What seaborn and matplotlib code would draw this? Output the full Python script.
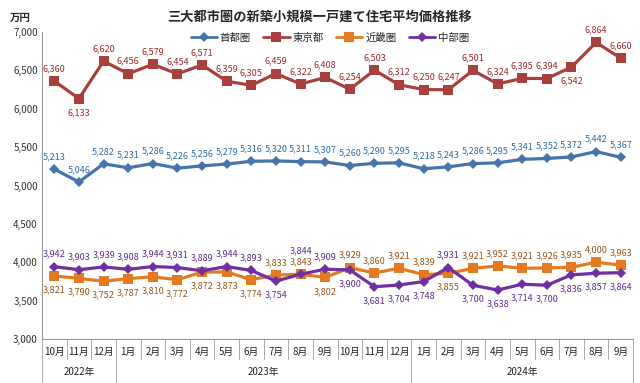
import matplotlib
matplotlib.use("Agg")
import matplotlib.pyplot as plt
import matplotlib.transforms as mtransforms
import pandas as pd
import seaborn as sns

months = ['10月', '11月', '12月', '1月', '2月', '3月', '4月', '5月', '6月', '7月', '8月', '9月',
          '10月', '11月', '12月', '1月', '2月', '3月', '4月', '5月', '6月', '7月', '8月', '9月']
years = ['2022年', '2023年', '2024年']
year_spans = [(0, 2), (3, 14), (15, 23)]

shuto = [5213, 5046, 5282, 5231, 5286, 5226, 5256, 5279, 5316, 5320, 5311, 5307,
         5260, 5290, 5295, 5218, 5243, 5286, 5295, 5341, 5352, 5372, 5442, 5367]
tokyo = [6360, 6133, 6620, 6456, 6579, 6454, 6571, 6359, 6305, 6459, 6322, 6408,
         6254, 6503, 6312, 6250, 6247, 6501, 6324, 6395, 6394, 6542, 6864, 6660]
kinki = [3821, 3790, 3752, 3787, 3810, 3772, 3872, 3873, 3774, 3833, 3843, 3802,
         3929, 3860, 3921, 3839, 3855, 3921, 3952, 3921, 3926, 3935, 4000, 3963]
chubu = [3942, 3903, 3939, 3908, 3944, 3931, 3889, 3944, 3893, 3754, 3844, 3909,
         3900, 3681, 3704, 3748, 3931, 3700, 3638, 3714, 3700, 3836, 3857, 3864]

series_names = ['首都圏', '東京都', '近畿圏', '中部圏']
series_values = [shuto, tokyo, kinki, chubu]

line_colors = {'首都圏': '#4774AA', '東京都': '#A8403E', '近畿圏': '#E47B22', '中部圏': '#7030A0'}
label_colors = {'首都圏': '#2F6DA6', '東京都': '#9E2A2B', '近畿圏': '#97561A', '中部圏': '#5E2E8E'}
markers = {'首都圏': 'D', '東京都': 's', '近畿圏': 's', '中部圏': 'D'}
msize = {'首都圏': 5, '東京都': 7, '近畿圏': 7, '中部圏': 5}

# label placement: listed indices go below the point, the rest above
below_idx = {
    '首都圏': [],
    '東京都': [1, 21],
    '近畿圏': [0, 1, 2, 3, 4, 5, 6, 7, 8, 11, 16],
    '中部圏': [9, 12, 13, 14, 15, 17, 18, 19, 20, 21, 22, 23],
}

rows = []
for name, vals in zip(series_names, series_values):
    for i, v in enumerate(vals):
        rows.append({'idx': i, 'value': v, 'series': name})
df = pd.DataFrame(rows)

sns.set_style('white')
plt.rcParams['font.family'] = ['Noto Sans CJK JP', 'DejaVu Sans']

fig = plt.figure(figsize=(6.4, 3.83), dpi=100)
ax = fig.add_axes([42 / 640, 1 - 339 / 383, (633 - 42) / 640, (339 - 32) / 383])

sns.lineplot(data=df, x='idx', y='value', hue='series', style='series',
             palette=line_colors, markers=markers, dashes=False, linewidth=2.3,
             markeredgewidth=0, ax=ax, legend=False)
for line, name in zip(ax.get_lines(), series_names):
    line.set_markersize(msize[name])

for name, vals in zip(series_names, series_values):
    for i, v in enumerate(vals):
        dy = -10 if i in below_idx[name] else 9
        if name == '中部圏' and i == 10:
            dy = 17
        ax.annotate(f'{v:,}', (i, v), xytext=(0, dy), textcoords='offset points',
                    ha='center', va='center', fontsize=6.5, color=label_colors[name])

ax.set_xlim(-0.5, 23.5)
ax.set_ylim(3000, 7000)
ax.set_yticks(range(3000, 7001, 500))
ax.set_yticklabels([f'{t:,}' for t in range(3000, 7001, 500)], fontsize=7, color='#333333')
ax.set_xticks(range(len(months)))
ax.set_xticklabels(months, fontsize=7, color='#222222')
ax.tick_params(axis='x', length=0, pad=6)
ax.tick_params(axis='y', length=0, pad=3)
ax.set_xlabel('')
ax.set_ylabel('')
for s in ['top', 'right']:
    ax.spines[s].set_visible(False)
for s in ['left', 'bottom']:
    ax.spines[s].set_color('#999999')
    ax.spines[s].set_linewidth(0.8)

# two-level category axis separators
trans = mtransforms.blended_transform_factory(ax.transData, ax.transAxes)
year_edges = [-0.5, 2.5, 14.5, 23.5]
for k in range(len(months) + 1):
    x = k - 0.5
    low = -0.14 if x in year_edges else -0.066
    ax.plot([x, x], [0, low], transform=trans, color='#AAAAAA', lw=0.7, clip_on=False)
for yname, (a, b) in zip(years, year_spans):
    ax.text((a + b) / 2, -0.107, yname, transform=trans, ha='center', va='center',
            fontsize=7, color='#222222')

fig.text(320 / 640, 1 - 17 / 383, '三大都市圏の新築小規模一戸建て住宅平均価格推移',
         ha='center', va='center', fontsize=9.5, fontweight='bold')
fig.text(20 / 640, 1 - 18 / 383, '万円', ha='center', va='center', fontsize=7.5,
         fontweight='bold')

handles = [plt.Line2D([0], [0], color=line_colors[n], marker=markers[n], lw=2,
                      markersize=msize[n], markeredgewidth=0) for n in series_names]
fig.legend(handles, series_names, loc='center', ncol=4,
           bbox_to_anchor=(330 / 640, 1 - 38 / 383), frameon=False, fontsize=7.5,
           handlelength=2.5, columnspacing=1.2, handletextpad=0.3)

fig.savefig('out.png', dpi=100)
